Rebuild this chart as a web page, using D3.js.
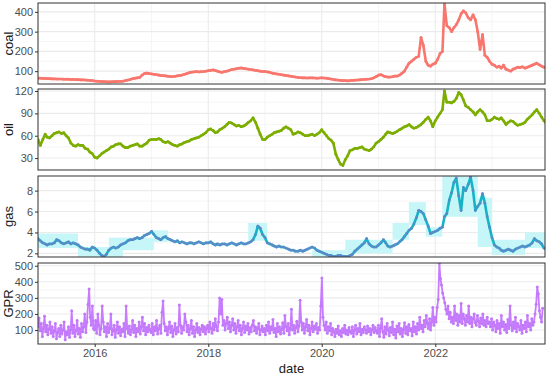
<!DOCTYPE html>
<html><head><meta charset="utf-8">
<script src="https://cdn.jsdelivr.net/npm/d3@7"></script>
<style>body{margin:0;background:#fff}svg{display:block;font-family:Arial,"Liberation Sans",sans-serif}</style>
</head><body><svg id="c" width="550" height="377"></svg>
<script>
// ---- data (semi-monthly: 24 values per year, 1st and 16th of each month) ----
const years = [2015,2016,2017,2018,2019,2020,2021,2022,2023];
const coalValues = [
 [65,64,63,63,62,62,61,61,60,60,60,59,59,59,58,58,57,57,56,56,55,54,53,52],
 [50,49,48,47,47,46,46,46,47,47,48,48,49,52,55,58,62,64,66,68,80,88,90,88],
 [86,84,82,80,78,77,76,74,73,72,74,76,78,80,84,88,92,95,96,98,96,97,98,100],
 [102,104,106,103,100,96,94,98,100,104,108,110,112,115,116,114,112,110,108,106,104,102,100,98],
 [98,96,94,90,88,86,84,82,80,78,76,74,72,70,68,67,66,66,65,66,66,65,64,65],
 [66,65,64,62,60,58,56,55,53,52,52,51,52,53,54,55,56,57,58,59,60,62,66,72],
 [80,82,76,72,70,70,72,75,75,80,90,100,120,140,150,160,170,175,270,230,150,130,125,135],
 [140,160,190,200,440,330,320,300,320,335,360,390,405,395,370,360,385,360,300,210,285,180,170,150],
 [135,130,120,125,115,130,110,105,100,110,115,120,118,122,115,120,125,130,135,140,132,125,120,118]
];
const oilValues = [
 [55,47,55,62,58,57,60,63,64,65,63,64,60,57,50,47,46,48,47,47,43,42,38,36],
 [31,30,33,36,38,40,42,45,46,48,49,49,46,44,44,46,47,48,49,46,46,48,50,54],
 [55,55,55,56,55,52,51,52,50,48,47,46,48,49,51,52,53,55,56,57,58,60,62,64],
 [68,69,67,64,65,68,70,72,75,78,77,75,73,74,72,73,75,78,80,84,78,70,62,55],
 [55,58,60,62,64,65,66,67,70,72,70,68,62,63,65,64,62,60,60,61,62,60,62,64],
 [68,64,60,56,54,50,35,28,22,20,28,33,40,41,43,43,44,45,42,41,40,42,45,50],
 [52,55,58,62,65,64,63,64,66,68,70,72,73,75,72,70,71,73,75,78,82,85,80,72],
 [80,85,90,95,120,105,105,104,106,110,118,115,108,100,98,95,92,88,92,95,92,88,80,80],
 [82,85,83,82,84,80,75,78,80,79,76,74,75,76,78,82,85,88,92,95,90,85,80,77]
];
const gasValues = [
 [3.4,3.2,3.0,2.9,2.8,2.9,2.9,3.0,3.3,3.2,3.0,2.9,3.0,3.1,2.9,3.0,2.9,2.8,2.6,2.5,2.4,2.4,2.3,2.6],
 [2.5,2.3,2.0,1.8,1.7,1.9,2.3,2.5,2.6,2.5,2.6,2.8,2.9,3.0,3.2,3.3,3.3,3.4,3.5,3.4,3.5,3.7,3.8,3.9],
 [4.1,3.8,3.5,3.4,3.3,3.5,3.6,3.4,3.3,3.2,3.1,3.2,3.0,3.1,3.0,2.9,3.0,3.0,2.9,3.0,3.1,3.0,2.9,3.0],
 [3.0,3.1,2.9,2.8,2.9,2.8,2.9,2.9,2.8,2.9,3.0,2.9,2.8,2.9,3.0,2.9,2.9,3.0,3.1,3.3,3.8,4.6,4.4,3.8],
 [3.5,3.0,2.9,2.8,2.7,2.6,2.7,2.6,2.6,2.5,2.4,2.3,2.3,2.2,2.2,2.3,2.2,2.3,2.4,2.5,2.6,2.5,2.3,2.2],
 [2.1,2.0,1.9,1.8,1.8,1.7,1.7,1.8,1.8,1.7,1.7,1.7,1.8,1.9,2.2,2.4,2.6,2.8,3.0,3.4,2.9,2.7,2.6,2.6],
 [2.8,3.0,3.3,3.0,2.7,2.6,2.7,2.8,2.9,3.1,3.3,3.6,3.9,4.2,4.4,4.8,5.4,6.1,6.0,5.8,5.2,4.6,3.9,4.0],
 [4.1,4.2,4.4,4.5,5.5,5.8,7.1,7.8,8.8,9.2,7.5,6.1,8.3,8.0,8.6,9.3,8.0,6.1,6.5,6.8,7.7,6.8,5.5,4.5],
 [3.5,2.8,2.6,2.5,2.3,2.2,2.3,2.4,2.3,2.2,2.4,2.5,2.6,2.7,2.6,2.7,2.8,3.0,3.4,3.2,3.1,2.9,2.5,2.4]
];
// GPR weekly values, 52 per year starting 2015-01-01
const gprValues = [
 [120,175,95,140,60,110,185,90,130,70,105,150,80,120,60,95,140,45,85,110,60,130,75,100,150,40,90,70,120,55,100,220,80,130,60,95,160,75,110,55,140,90,120,200,85,150,260,355,180,130,250,110],
 [100,160,80,200,130,70,110,250,150,90,120,60,140,85,110,200,70,95,130,55,100,150,80,120,65,105,90,140,60,250,110,80,125,70,100,160,85,130,60,110,90,150,75,120,180,95,140,70,115,90,130,100],
 [85,140,70,120,95,160,75,110,130,80,210,280,140,95,120,70,110,150,85,125,60,100,140,75,115,90,255,130,80,120,100,200,150,90,130,70,110,160,80,120,60,100,140,85,115,70,105,130,90,120,75,110],
 [130,90,150,110,80,140,100,170,120,95,150,300,200,290,130,160,100,140,180,110,150,90,130,170,100,140,80,120,160,95,130,70,110,150,85,125,100,140,75,115,90,130,160,95,120,80,110,140,70,100,125,90],
 [110,70,130,95,150,80,120,100,165,85,110,60,140,90,120,75,105,145,80,190,120,95,140,70,110,230,100,130,80,115,155,90,125,285,150,100,140,80,120,165,95,130,70,110,150,90,125,105,140,80,115,100],
 [250,423,180,130,100,150,80,120,95,140,70,110,90,60,105,80,125,70,95,60,110,85,130,75,100,70,115,90,80,120,60,100,130,75,110,90,140,70,105,85,120,100,80,125,90,110,70,100,130,85,115,95],
 [80,130,60,110,170,90,55,120,75,140,100,65,115,85,150,70,105,50,125,90,140,75,110,60,100,145,80,120,70,135,95,110,65,150,90,120,75,140,100,180,110,130,90,160,120,190,140,110,170,100,150,240],
 [130,180,150,240,290,516,420,380,330,300,270,230,200,250,170,210,150,180,140,250,160,200,130,190,150,265,140,200,170,130,190,150,250,140,180,120,170,200,145,130,190,155,120,175,140,200,130,160,120,180,140,150],
 [120,170,100,150,130,90,160,110,140,80,190,120,150,100,135,85,165,110,250,130,95,150,110,180,90,140,120,100,160,80,130,110,150,90,190,120,140,100,170,130,150,200,260,367,325,220,180,150,235]
];
// shaded ranges in the gas panel: [start, end, low, high]
const gasBands = [
 ["2015-01-01","2015-09-15",2.5,3.9],
 ["2015-09-15","2016-07-01",1.65,2.6],
 ["2016-04-01","2017-01-15",2.3,3.5],
 ["2017-01-15","2017-04-15",3.1,4.2],
 ["2018-09-15","2019-01-15",3.2,4.9],
 ["2019-11-01","2020-06-01",1.65,2.3],
 ["2020-06-01","2021-04-01",2.0,3.3],
 ["2021-04-01","2021-07-15",3.3,4.9],
 ["2021-07-15","2021-11-01",4.7,6.9],
 ["2021-11-01","2022-02-15",3.6,4.5],
 ["2022-02-15","2022-10-01",5.5,9.4],
 ["2022-10-01","2023-01-01",2.6,7.3],
 ["2023-01-01","2023-08-01",1.85,3.3],
 ["2023-08-01","2023-12-08",2.5,4.0]
];
const xTickYears = [2016,2018,2020,2022];
const panels = [
 {name:"coal", values:coalValues, color:"#F8766D", pt:"#F8766D", domain:[35,445], ticks:[100,200,300,400], minor:[50,150,250,350]},
 {name:"oil",  values:oilValues,  color:"#7CAE00", pt:"#7CAE00", domain:[14,122.7], ticks:[30,60,90,120], minor:[15,45,75,105]},
 {name:"gas",  values:gasValues,  color:"#16B3C6", pt:"#5E88C8", domain:[1.65,9.4], ticks:[2,4,6,8], minor:[3,5,7,9]},
 {name:"GPR",  values:gprValues,  color:"#C77CFF", pt:"#C07AF8", domain:[13,517], ticks:[100,200,300,400,500], minor:[50,150,250,350,450]}
];
// ---- layout ----
const svg = d3.select("#c");
const left = 38, right = 545;
const tops = [3,89,176,263], ph = 81;
const parse = d3.timeParse("%Y-%m-%d");
const x = d3.scaleTime().domain([new Date(2015,0,1), new Date(2023,11,8)]).range([left,right]);
const semiDates = (yi,i) => new Date(years[yi], Math.floor(i/2), i%2 ? 16 : 1);

panels.forEach((p,k)=>{
  const top = tops[k], bot = top+ph;
  const y = d3.scaleLinear().domain(p.domain).range([bot,top]);
  const g = svg.append("g");
  const cid = "clip"+k;
  svg.append("clipPath").attr("id",cid).append("rect").attr("x",left).attr("y",top).attr("width",right-left).attr("height",ph);
  g.append("rect").attr("x",left).attr("y",top).attr("width",right-left).attr("height",ph).attr("fill","#fff");
  // grid
  const minorX = d3.range(2015,2024,2).map(v=>new Date(v,0,1));
  g.selectAll(".mx").data(minorX).join("line").attr("x1",d=>x(d)).attr("x2",d=>x(d)).attr("y1",top).attr("y2",bot).attr("stroke","#EBEBEB").attr("stroke-width",0.55);
  g.selectAll(".my").data(p.minor).join("line").attr("x1",left).attr("x2",right).attr("y1",d=>y(d)).attr("y2",d=>y(d)).attr("stroke","#EBEBEB").attr("stroke-width",0.55);
  g.selectAll(".Mx").data(xTickYears.map(v=>new Date(v,0,1))).join("line").attr("x1",d=>x(d)).attr("x2",d=>x(d)).attr("y1",top).attr("y2",bot).attr("stroke","#EBEBEB").attr("stroke-width",1.07);
  g.selectAll(".My").data(p.ticks).join("line").attr("x1",left).attr("x2",right).attr("y1",d=>y(d)).attr("y2",d=>y(d)).attr("stroke","#EBEBEB").attr("stroke-width",1.07);
  const body = g.append("g").attr("clip-path",`url(#${cid})`);
  if (p.name==="gas") {
    body.selectAll(".band").data(gasBands).join("rect")
      .attr("x",d=>x(parse(d[0]))).attr("width",d=>x(parse(d[1]))-x(parse(d[0])))
      .attr("y",d=>y(d[3])).attr("height",d=>y(d[2])-y(d[3])).attr("fill","#C6F6F8");
  }
  let pts = [];
  if (p.name==="GPR") {
    p.values.forEach((row,yi)=>row.forEach((v,i)=>pts.push([d3.timeDay.offset(new Date(2015,0,1),7*(yi*52+i)),v])));
  } else {
    p.values.forEach((row,yi)=>row.forEach((v,i)=>pts.push([semiDates(yi,i),v])));
  }
  const line = d3.line().x(d=>x(d[0])).y(d=>y(d[1]));
  body.append("path").datum(pts).attr("d",line).attr("fill","none").attr("stroke",p.color)
    .attr("stroke-width",p.name==="GPR"?1.8:2.6).attr("stroke-linejoin","round");
  body.selectAll(".pt").data(pts).join("circle").attr("cx",d=>x(d[0])).attr("cy",d=>y(d[1]))
    .attr("r",p.name==="GPR"?1.5:1.4).attr("fill",p.pt);
  // border
  g.append("rect").attr("x",left).attr("y",top).attr("width",right-left).attr("height",ph).attr("fill","none").attr("stroke","#333").attr("stroke-width",1);
  // y axis
  const ax = g.append("g").attr("transform",`translate(${left},0)`).call(d3.axisLeft(y).tickValues(p.ticks).tickSize(3).tickPadding(2));
  ax.select(".domain").remove();
  ax.selectAll(".tick line").attr("stroke","#333");
  ax.selectAll("text").attr("fill","#4D4D4D").style("font-size","11px");
  svg.append("text").attr("transform",`translate(13,${top+ph/2}) rotate(-90)`).attr("text-anchor","middle")
    .style("font-size","13px").attr("fill","#1a1a1a").text(p.name);
  if (k===3) {
    const xa = g.append("g").attr("transform",`translate(0,${bot})`).call(d3.axisBottom(x).tickValues(xTickYears.map(v=>new Date(v,0,1))).tickFormat(d3.timeFormat("%Y")).tickSize(3).tickPadding(2));
    xa.select(".domain").remove();
    xa.selectAll(".tick line").attr("stroke","#333");
    xa.selectAll("text").attr("fill","#4D4D4D").style("font-size","11px");
  }
});
svg.append("text").attr("x",(left+right)/2).attr("y",373).attr("text-anchor","middle").style("font-size","13px").attr("fill","#1a1a1a").text("date");
</script></body></html>
